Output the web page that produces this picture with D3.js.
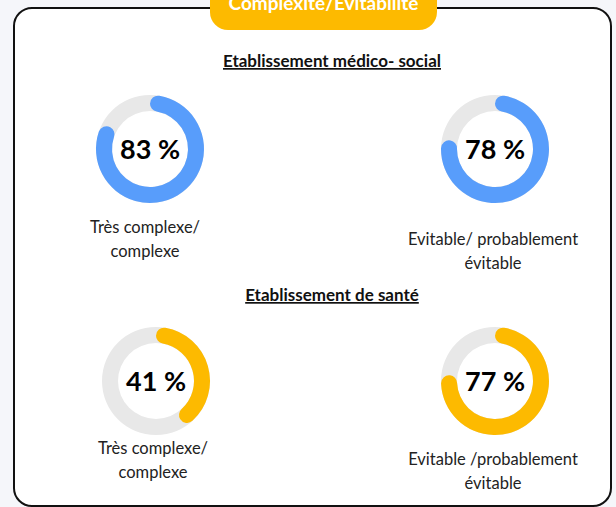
<!DOCTYPE html>
<html>
<head>
<meta charset="utf-8">
<script src="https://cdn.jsdelivr.net/npm/d3@7"></script>
<style>
  html, body { margin: 0; padding: 0; background: #f5f6fa; }
  svg { display: block; font-family: Lato, "Open Sans", sans-serif; }
</style>
</head>
<body>
<script>
var width = 616, height = 507;

// data
var title = "Complexité/Evitabilité";
var sections = ["Etablissement médico- social", "Etablissement de santé"];
var values = [83, 78, 41, 77];
var labels = [
  ["Très complexe/", "complexe"],
  ["Evitable/ probablement", "évitable"],
  ["Très complexe/", "complexe"],
  ["Evitable /probablement", "évitable"]
];
var sectionOf = [0, 0, 1, 1];
var colors = ["#589dfb", "#fdba00"];

// layout
var cx = [150, 495, 156, 495],
    cy = [149, 149, 381, 381],
    labelX = [145, 493, 153, 493],
    labelY = [233, 245, 454, 465],
    sectionY = [67, 301],
    outerR = 54, innerR = 38;

var angle = d3.scaleLinear().domain([0, 100]).range([0, 2 * Math.PI]);

var svg = d3.select("body").append("svg")
    .attr("width", width)
    .attr("height", height);

svg.append("rect")
    .attr("x", 14).attr("y", 8)
    .attr("width", 597).attr("height", 498)
    .attr("rx", 18)
    .attr("fill", "#fff")
    .attr("stroke", "#111")
    .attr("stroke-width", 2);

svg.append("rect")
    .attr("x", 210).attr("y", -20)
    .attr("width", 227).attr("height", 50)
    .attr("rx", 18)
    .attr("fill", colors[1]);

svg.append("text")
    .attr("x", 323.5).attr("y", 10)
    .attr("text-anchor", "middle")
    .attr("fill", "#fff")
    .style("font-size", "19px")
    .style("font-weight", "bold")
    .text(title);

svg.selectAll(".section")
    .data(sections)
  .enter().append("text")
    .attr("class", "section")
    .attr("x", 332)
    .attr("y", function(d, i) { return sectionY[i]; })
    .attr("text-anchor", "middle")
    .attr("fill", "#111")
    .style("font-size", "17px")
    .style("font-weight", "bold")
    .style("text-decoration", "underline")
    .text(function(d) { return d; });

var track = d3.arc().innerRadius(innerR).outerRadius(outerR)
    .startAngle(0).endAngle(2 * Math.PI);

var fill = d3.arc().innerRadius(innerR).outerRadius(outerR)
    .cornerRadius((outerR - innerR) / 2)
    .startAngle(0)
    .endAngle(function(d) { return angle(d); });

var donut = svg.selectAll(".donut")
    .data(values)
  .enter().append("g")
    .attr("class", "donut")
    .attr("transform", function(d, i) { return "translate(" + cx[i] + "," + cy[i] + ")"; });

donut.append("path")
    .attr("d", track())
    .attr("fill", "#e8e8e8");

donut.append("path")
    .attr("d", function(d) { return fill(d); })
    .attr("fill", function(d, i) { return colors[sectionOf[i]]; });

donut.append("text")
    .attr("text-anchor", "middle")
    .attr("dy", "0.36em")
    .attr("fill", "#000")
    .style("font-size", "27px")
    .style("font-weight", "bold")
    .text(function(d) { return d + " %"; });

svg.selectAll(".label")
    .data(labels)
  .enter().append("text")
    .attr("class", "label")
    .attr("text-anchor", "middle")
    .attr("fill", "#222")
    .style("font-size", "16.5px")
    .attr("transform", function(d, i) { return "translate(" + labelX[i] + "," + labelY[i] + ")"; })
  .selectAll("tspan")
    .data(function(d) { return d; })
  .enter().append("tspan")
    .attr("x", 0)
    .attr("y", function(d, j) { return j * 24; })
    .text(function(d) { return d; });
</script>
</body>
</html>
